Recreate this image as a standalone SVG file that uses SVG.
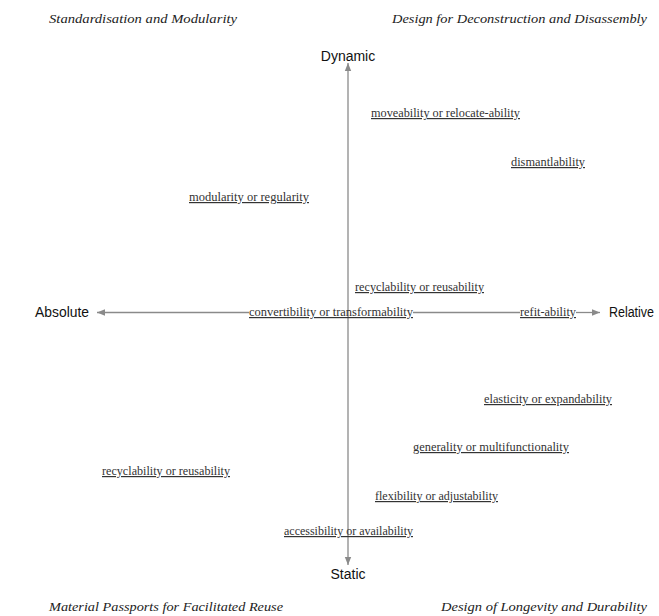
<svg xmlns="http://www.w3.org/2000/svg" width="659" height="616" viewBox="0 0 659 616">
<style>
.corner{font-family:"Liberation Serif","DejaVu Serif",serif;font-style:italic;font-size:13px;fill:#222}
.axis{font-family:"Liberation Sans",Arial,sans-serif;font-size:14px;fill:#111}
.lab{font-family:"Liberation Serif","DejaVu Serif",serif;font-size:12px;fill:#333;text-decoration:underline}
.ax{stroke:#8a8a8a;stroke-width:1.3;fill:none}
</style>
<defs>
<marker id="ah" viewBox="0 0 10 10" refX="10" refY="5" markerWidth="8" markerHeight="8" markerUnits="userSpaceOnUse" orient="auto">
<path d="M0,1 L10,5 L0,9 Z" fill="#8a8a8a"/>
</marker>
</defs>
<rect width="659" height="616" fill="#fff"/>
<g id="connectors">
<line class="ax" x1="348" y1="312" x2="348" y2="63" marker-end="url(#ah)"/>
<line class="ax" x1="348" y1="312" x2="348" y2="565" marker-end="url(#ah)"/>
<line class="ax" x1="249" y1="312.5" x2="97" y2="312.5" marker-end="url(#ah)"/>
<line class="ax" x1="413" y1="312.5" x2="520" y2="312.5"/>
<line class="ax" x1="576" y1="312.5" x2="600" y2="312.5" marker-end="url(#ah)"/>
</g>
<g id="corner-tl"><text class="corner" x="49" y="23" textLength="188" lengthAdjust="spacingAndGlyphs">Standardisation and Modularity</text></g>
<g id="corner-tr"><text class="corner" x="392" y="23" textLength="255" lengthAdjust="spacingAndGlyphs">Design for Deconstruction and Disassembly</text></g>
<g id="corner-bl"><text class="corner" x="49" y="611" textLength="234" lengthAdjust="spacingAndGlyphs">Material Passports for Facilitated Reuse</text></g>
<g id="corner-br"><text class="corner" x="441" y="611" textLength="206" lengthAdjust="spacingAndGlyphs">Design of Longevity and Durability</text></g>
<g id="axis-dynamic"><text class="axis" x="348" y="61" text-anchor="middle">Dynamic</text></g>
<g id="axis-static"><text class="axis" x="348" y="579" text-anchor="middle">Static</text></g>
<g id="axis-absolute"><text class="axis" x="35" y="317" textLength="54" lengthAdjust="spacingAndGlyphs">Absolute</text></g>
<g id="axis-relative"><text class="axis" x="609" y="317" textLength="45" lengthAdjust="spacingAndGlyphs">Relative</text></g>
<g id="n-moveability"><text class="lab" x="371" y="117" textLength="149" lengthAdjust="spacingAndGlyphs">moveability or relocate-ability</text></g>
<g id="n-dismantlability"><text class="lab" x="511" y="166" textLength="74" lengthAdjust="spacingAndGlyphs">dismantlability</text></g>
<g id="n-modularity"><text class="lab" x="189" y="201" textLength="120" lengthAdjust="spacingAndGlyphs">modularity or regularity</text></g>
<g id="n-recyclability-1"><text class="lab" x="355" y="291" textLength="129" lengthAdjust="spacingAndGlyphs">recyclability or reusability</text></g>
<g id="n-convertibility"><text class="lab" x="249" y="316" textLength="164" lengthAdjust="spacingAndGlyphs">convertibility or transformability</text></g>
<g id="n-refit"><text class="lab" x="520" y="316" textLength="56" lengthAdjust="spacingAndGlyphs">refit-ability</text></g>
<g id="n-elasticity"><text class="lab" x="484" y="403" textLength="128" lengthAdjust="spacingAndGlyphs">elasticity or expandability</text></g>
<g id="n-generality"><text class="lab" x="413" y="451" textLength="156" lengthAdjust="spacingAndGlyphs">generality or multifunctionality</text></g>
<g id="n-recyclability-2"><text class="lab" x="102" y="475" textLength="128" lengthAdjust="spacingAndGlyphs">recyclability or reusability</text></g>
<g id="n-flexibility"><text class="lab" x="375" y="500" textLength="123" lengthAdjust="spacingAndGlyphs">flexibility or adjustability</text></g>
<g id="n-accessibility"><text class="lab" x="284" y="535" textLength="129" lengthAdjust="spacingAndGlyphs">accessibility or availability</text></g>
</svg>
